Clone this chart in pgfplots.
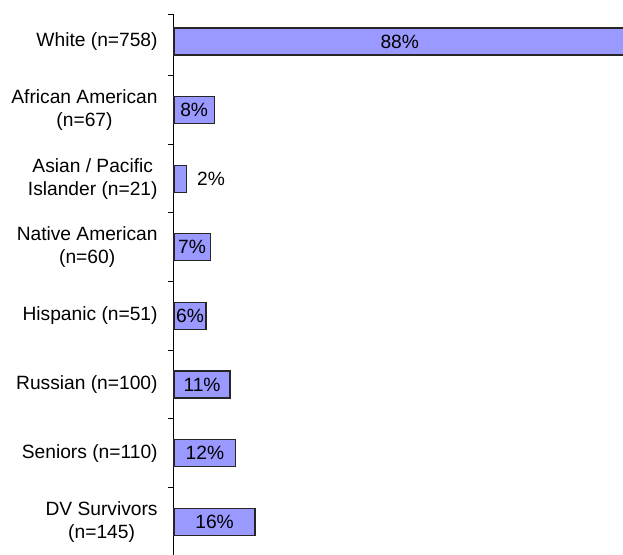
\documentclass[border=0pt]{standalone}
\usepackage{fontspec}
\setmainfont{Liberation Sans}
\usepackage{pgfplots}
\usepackage{pgfplotstable}
\pgfplotsset{compat=1.18}
\definecolor{barfill}{RGB}{153,153,255}
\newcommand\cf{\fontsize{9.6}{11.5}\selectfont}

% pos: 7 = top row
\pgfplotstableread{
pos val pct
7 88.5 88
6 7.9 8
5 2.5 2
4 7.1 7
3 6.3 6
2 11.0 11
1 12.1 12
0 15.9 16
}\groups

\begin{document}
\begin{tikzpicture}
\useasboundingbox (0,0) rectangle (311.5pt,277.5pt);
\begin{axis}[
  at={(87pt,-0.5pt)}, anchor=south west,
  scale only axis, width=224.5pt, height=270.5pt,
  xmin=0, xmax=88, ymin=-0.5, ymax=7.386,
  axis x line=none, axis y line*=left,
  ytick={0.5,1.5,2.5,3.5,4.5,5.5,6.5,7.386}, yticklabels={},
  tick align=outside, major tick length=3pt,
  extra y ticks={0,1,2,3,4,5,6,7},
  extra y tick labels={{DV Survivors\\(n=145)},{Seniors (n=110)},{Russian (n=100)},{Hispanic (n=51)},{Native American\\(n=60)},{Asian / Pacific\\Islander (n=21)},{African American\\(n=67)},{White (n=758)}},
  extra y tick style={major tick length=0pt},
  yticklabel style={font=\cf, align=center, inner sep=0pt, xshift=-8pt},
  axis line style={black, line width=0.5pt},
  tick style={black, line width=0.5pt},
  clip=false,
]
\addplot[xbar, bar width=13.5pt, fill=barfill, draw=black!85, line width=0.65pt]
  table[x=val, y=pos] {\groups};
% labels inside the bars
\addplot[draw=none, mark=none, x filter/.expression={x/2},
  skip coords between index={2}{3},
  point meta=explicit symbolic, nodes near coords={\pgfplotspointmeta\%},
  every node near coord/.append style={anchor=center, font=\cf, text=black, inner sep=0pt}]
  table[x=val, y=pos, meta=pct] {\groups};
% label beside the short bar
\addplot[draw=none, mark=none,
  skip coords between index={0}{2}, skip coords between index={3}{8},
  point meta=explicit symbolic, nodes near coords={\pgfplotspointmeta\%},
  every node near coord/.append style={anchor=west, font=\cf, text=black, inner sep=0pt, xshift=5pt}]
  table[x=val, y=pos, meta=pct] {\groups};
\end{axis}
\end{tikzpicture}
\end{document}
